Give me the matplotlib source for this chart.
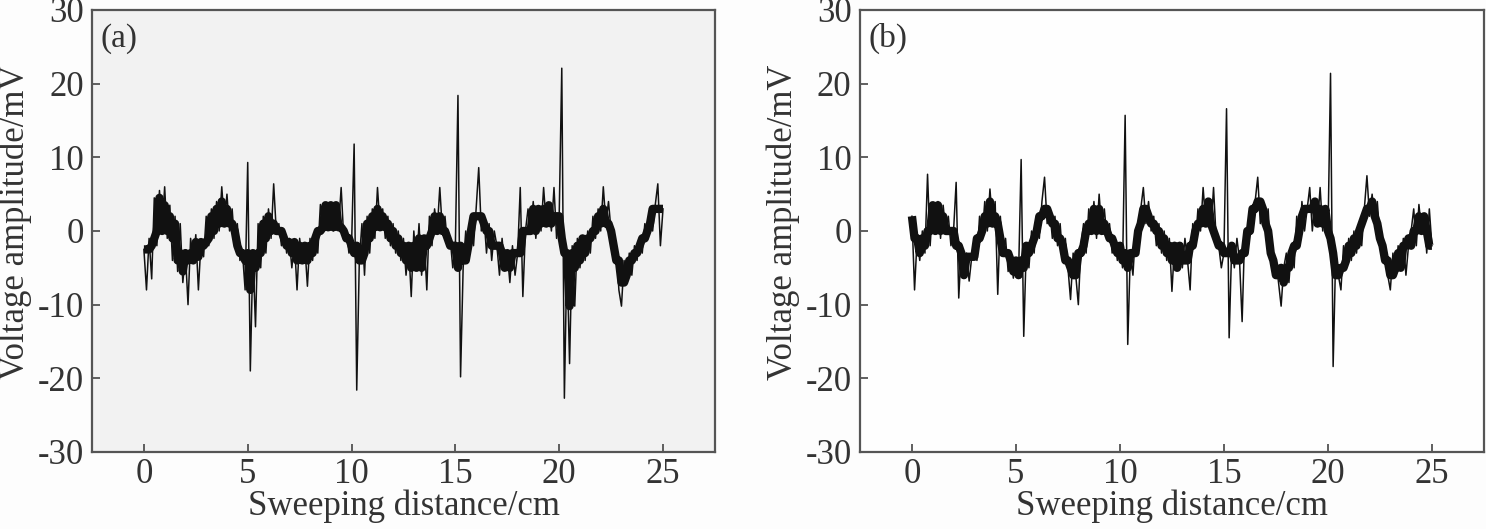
import matplotlib
matplotlib.use("Agg")
import matplotlib.pyplot as plt
import numpy as np
from numpy.lib.stride_tricks import sliding_window_view

# voltage, one value every 0.125 cm from 0 to 25 cm
volt_a = [
    -2.5, -8, -1, -6.5, 4.5, -2, 5.5, 0,
    6, -1, 3.5, -4, 2, -5.5, 1, -7,
    -3, -10, -1, -4, -0.5, -8, -1.5, -3.5,
    2, -2, 3, -1, 4, 0, 6, 1,
    5, 0, 3, -2, 1, -4, -3, -8,
    9.3, -19, -3, -13, 1, -5, 2, -3,
    3, -1, 6.4, 0, 1, -2, 0, -3,
    -1, -5, -1.5, -8, -1, -4, -2, -7.5,
    -1, -4, 0, -3, 3.6, 0, 3.5, 0.5,
    3.5, 0, 3.6, 0.5, 5.9, -1, 0, -3,
    -2, 11.8, -21.6, -4, 1, -6, 2, -3,
    3, -1, 5.9, 0.5, 3, -1, 2, -2,
    1, -3, 0, -4, -1, -6, -2, -8.9,
    0, -5, 1, -6, -1, -8, 2, -2,
    3, 0, 5.9, 0, 2, -2, -1, -5,
    -2, 18.4, -19.8, -5, 0, -4, 2, -2,
    3, 8.6, 0, 2, -3, 1, -4, 0,
    -2, -6, -1, -5, -3, -7, -2, -6,
    -3, 5.9, -8.9, 0, 3, 0, 4, -1,
    3, 0, 5.9, 1, 3.5, 0, 5.9, -1,
    2, 22.1, -22.7, -3, -18, -2, -10.2, -1,
    -5, -1, -4, 0, -3, 2, -1, 3,
    0, 6, 1, 4, 0, -4, -2, -8,
    -10.2, -4, -7, -3, -6, -2, -4, -1,
    -3, 1, -1, 3, 0, 3.5, 6.4, -2, 3,
]

volt_b = [
    2, -8, -1, -4, 0, -3, 7.7, -2,
    3.5, 0, 4, -1, 3.5, 0, 2, -2,
    0, 6.6, -9.1, -2, -6, -3, -6.8, -3.5,
    -1, -4, 2, -1, 4, 0, 5.7, 1,
    4, -8.6, 2, -3, -1, -5.5, -3, -6.4,
    -4, -6, 9.7, -14.3, -2, -5, 0, -3,
    2, -1, 4, 7.3, 1, 3, -1, 2,
    -2, 1, -4, -1, -5, -9.3, -3, -6,
    -10, -2, 1, -3, 3, 0, 4, -1,
    5, 0, 3, -1, 1, -3, -1, -4,
    -2, -5, 15.7, -15.4, -3, -6, 0, -3,
    3, 5.9, 1, 4, 0, 2, -2, 1,
    -3, 0, -4, -1, -8.2, -2, -5, -2,
    -5, -1, -4, -8, 1, -2, 3, 0,
    5.9, 1, 4, 0, 5.9, -1, -2, -5,
    -3, 16.6, -14.5, -2, -5, -1, -4, -12.3,
    0, -3, 3, 0, 4, 7.3, 1, 4,
    0, 3, -3, -6, -4, -7, -10.2, -5,
    -3, -7, -2, -5, 2, -2, 4, 0,
    3, 5.9, 0, 4, 1, 5.9, 0, 3,
    -1, 21.4, -18.4, -3, -6, -8, -2, -5,
    -1, -4, 0, -3, 1, -2, 3, 7.5,
    2, 5, 1, 4, -1, -4, -2, -6,
    -8, -3, -6, -2, -5, -1, -6, -2,
    0, 3, -2, 3.6, 0, 2, -3, 3, -2,
]

panel_labels = ["(a)", "(b)"]
x_ticks = [0, 5, 10, 15, 20, 25]
y_ticks = [-30, -20, -10, 0, 10, 20, 30]

plt.rcParams["font.family"] = ["Liberation Serif", "DejaVu Serif"]
plt.rcParams["axes.unicode_minus"] = False


def local_median(v, k=5):
    # running median of the read values, used for the dense core of the trace
    p = np.pad(np.asarray(v, float), k // 2, mode="edge")
    return np.median(sliding_window_view(p, k), axis=1)


fig = plt.figure(figsize=(14.86, 5.29), dpi=100)
fig.patch.set_facecolor("#fdfdfd")

ax_a = fig.add_axes([0.0619, 0.1456, 0.4192, 0.8355])
ax_b = fig.add_axes([0.5787, 0.1456, 0.4199, 0.8355])

for ax, volt, lab, bg in zip([ax_a, ax_b], [volt_a, volt_b], panel_labels,
                             ["#f2f2f2", "#fefefe"]):
    dist = np.linspace(0, 25, len(volt))
    ax.plot(dist, local_median(volt), color="#111111", lw=6,
            solid_capstyle="butt", solid_joinstyle="round")
    ax.plot(dist, volt, color="#111111", lw=1.1)
    ax.set_facecolor(bg)
    ax.set_xlim(-2.5, 27.5)
    ax.set_ylim(-30, 30)
    ax.set_xticks(x_ticks)
    ax.set_yticks(y_ticks)
    ax.tick_params(direction="in", length=6, width=1.2, color="#444444",
                   labelsize=25, labelcolor="#333333", top=False, right=False)
    ax.tick_params(axis="x", pad=4)
    ax.tick_params(axis="y", pad=6)
    for sp in ax.spines.values():
        sp.set_color("#555555")
        sp.set_linewidth(1.6)
    ax.set_xlabel("Sweeping distance/cm", fontsize=25, color="#333333")
    ax.set_ylabel("Voltage amplitude/mV", fontsize=25, color="#333333")
    ax.xaxis.set_label_coords(0.5, -0.085)
    ax.yaxis.set_label_coords(-0.096, 0.52)
    ax.text(0.014, 0.97, lab, transform=ax.transAxes, fontsize=24,
            va="top", ha="left", color="#333333")

fig.savefig("out.png", dpi=100, facecolor=fig.get_facecolor())
